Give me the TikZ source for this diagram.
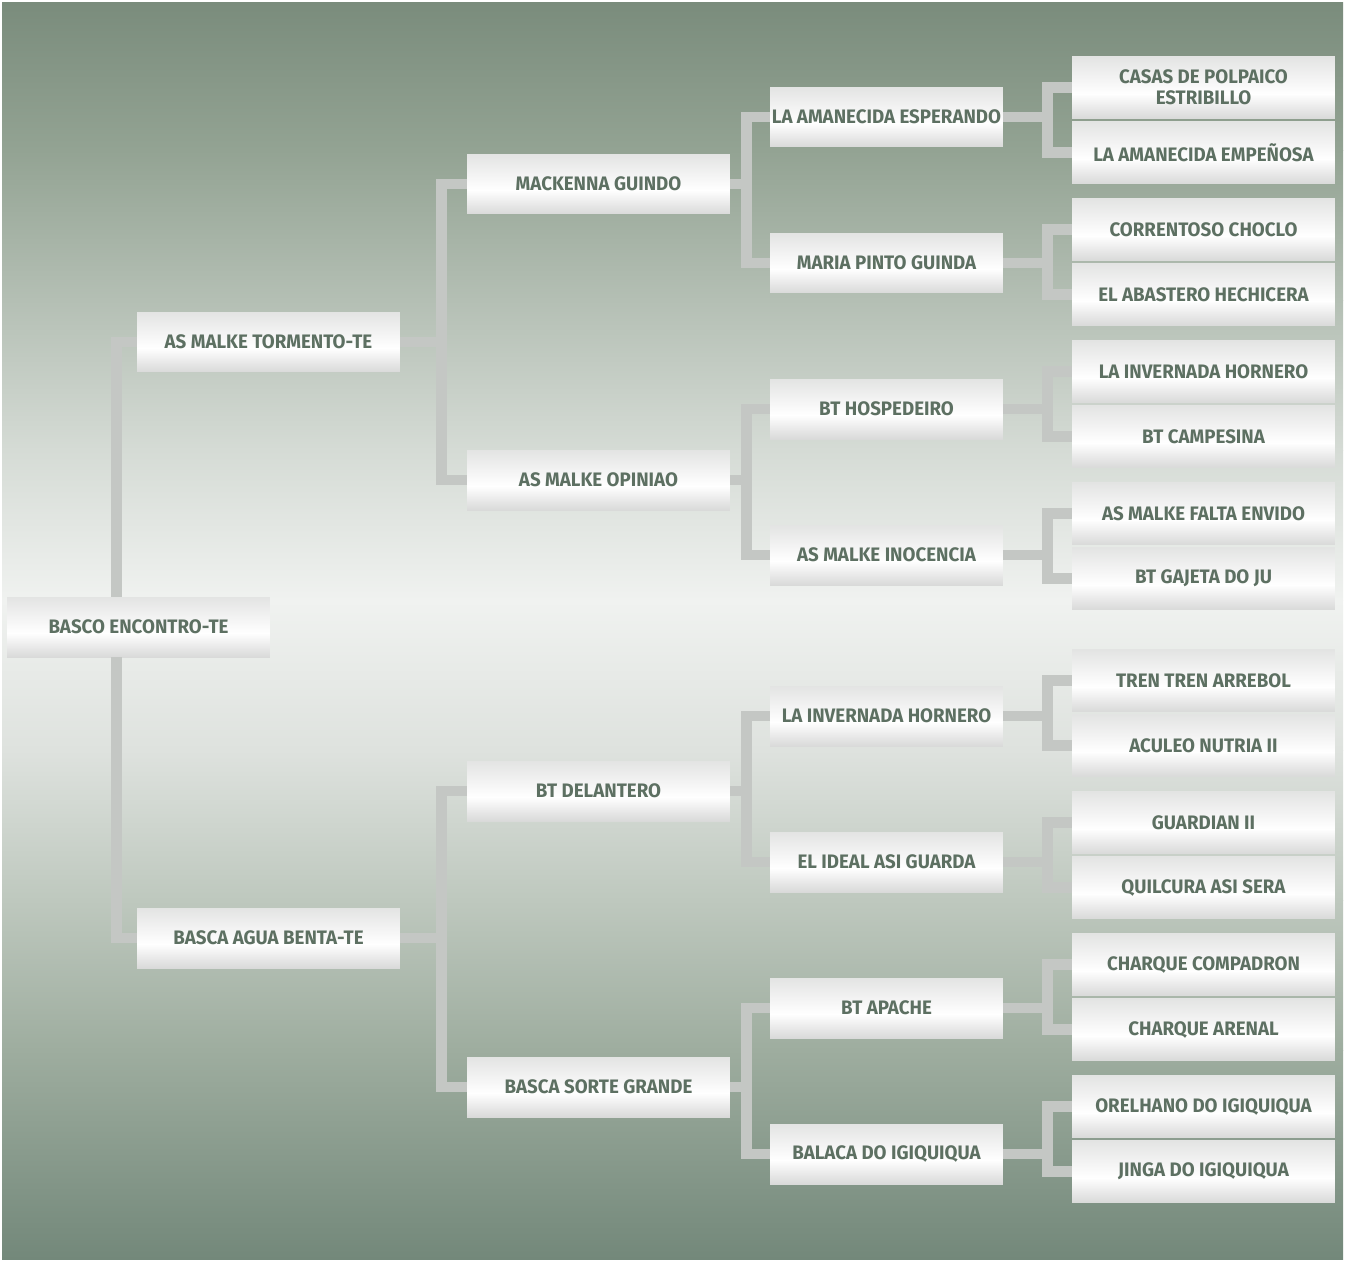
\documentclass[tikz,border=0pt]{standalone}
\usepackage{fontspec}
\setmainfont[FakeStretch=0.96]{Fira Sans}
\usepackage{xcolor}
\usepackage{tikz}

\definecolor{txt}{HTML}{5D7062}
\definecolor{lnk}{HTML}{C4C7C4}
\definecolor{boxtop}{HTML}{E3E4E3}
\definecolor{boxmid}{HTML}{F1F1F1}
\definecolor{boxlow}{HTML}{E6E6E6}
\definecolor{boxbot}{HTML}{D9DAD9}
\pgfdeclareverticalshading{boxshade}{100bp}{color(0bp)=(boxbot); color(25bp)=(boxbot);
  color(32bp)=(boxlow); color(45bp)=(white); color(60bp)=(boxmid); color(75bp)=(boxtop); color(100bp)=(boxtop)}

\begin{document}
\begin{tikzpicture}[x=0.02cm,y=-0.02cm,
  horse/.style={shading=boxshade, minimum width=5.26cm, minimum height=1.2cm, inner sep=0pt,
    text=txt, font=\fontsize{11.1}{11.9}\selectfont\bfseries, align=center},
  dam/.style={horse, minimum width=4.66cm},
  gran/.style={horse, minimum height=1.24cm},
  link/.style={line width=0.21cm, lnk}]
\useasboundingbox (0,0) rectangle (1345,1261);
\fill[white] (0,0) rectangle (1345,1261);
\shade[top color={rgb,255:red,122;green,140;blue,124}, bottom color={rgb,255:red,147;green,163;blue,147}] (2,2) rectangle (1343,150);
\shade[top color={rgb,255:red,147;green,163;blue,147}, bottom color={rgb,255:red,180;green,191;blue,180}] (2,150) rectangle (1343,300);
\shade[top color={rgb,255:red,180;green,191;blue,180}, bottom color={rgb,255:red,213;green,219;blue,213}] (2,300) rectangle (1343,450);
\shade[top color={rgb,255:red,213;green,219;blue,213}, bottom color={rgb,255:red,240;green,242;blue,240}] (2,450) rectangle (1343,600);
\shade[top color={rgb,255:red,240;green,242;blue,240}, bottom color={rgb,255:red,222;green,226;blue,222}] (2,600) rectangle (1343,750);
\shade[top color={rgb,255:red,222;green,226;blue,222}, bottom color={rgb,255:red,190;green,200;blue,190}] (2,750) rectangle (1343,900);
\shade[top color={rgb,255:red,190;green,200;blue,190}, bottom color={rgb,255:red,158;green,173;blue,159}] (2,900) rectangle (1343,1050);
\shade[top color={rgb,255:red,158;green,173;blue,159}, bottom color={rgb,255:red,115;green,136;blue,122}] (2,1050) rectangle (1343,1259);

% horses
\node[horse] at (138.5,627) (root) {BASCO ENCONTRO-TE};

\node[horse] at (268.5,342) (s) {AS MALKE TORMENTO-TE};
\node[horse] at (268.5,938) (d) {BASCA AGUA BENTA-TE};

\node[horse] at (598.5,184) (ss) {MACKENNA GUINDO};
\node[horse] at (598.5,480) (sd) {AS MALKE OPINIAO};
\node[horse] at (598.5,791) (ds) {BT DELANTERO};
\node[horse] at (598.5,1087) (dd) {BASCA SORTE GRANDE};

\node[dam] at (886.5,117) (sss) {LA AMANECIDA ESPERANDO};
\node[dam] at (886.5,263) (ssd) {MARIA PINTO GUINDA};
\node[dam] at (886.5,409) (sds) {BT HOSPEDEIRO};
\node[dam] at (886.5,555) (sdd) {AS MALKE INOCENCIA};
\node[dam] at (886.5,716) (dss) {LA INVERNADA HORNERO};
\node[dam] at (886.5,862) (dsd) {EL IDEAL ASI GUARDA};
\node[dam] at (886.5,1008) (dds) {BT APACHE};
\node[dam] at (886.5,1154) (ddd) {BALACA DO IGIQUIQUA};

\node[gran] at (1203.5,87.5) (ssss) {CASAS DE POLPAICO\\ESTRIBILLO};
\node[gran] at (1203.5,152.5) (sssd) {LA AMANECIDA EMPEÑOSA};
\node[gran] at (1203.5,229.5) (ssds) {CORRENTOSO CHOCLO};
\node[gran] at (1203.5,294.5) (ssdd) {EL ABASTERO HECHICERA};
\node[gran] at (1203.5,371.5) (sdss) {LA INVERNADA HORNERO};
\node[gran] at (1203.5,436.5) (sdsd) {BT CAMPESINA};
\node[gran] at (1203.5,513.5) (sdds) {AS MALKE FALTA ENVIDO};
\node[gran] at (1203.5,578.5) (sddd) {BT GAJETA DO JU};
\node[gran] at (1203.5,680.5) (dsss) {TREN TREN ARREBOL};
\node[gran] at (1203.5,745.5) (dssd) {ACULEO NUTRIA II};
\node[gran] at (1203.5,822.5) (dsds) {GUARDIAN II};
\node[gran] at (1203.5,887.5) (dsdd) {QUILCURA ASI SERA};
\node[gran] at (1203.5,964.5) (ddss) {CHARQUE COMPADRON};
\node[gran] at (1203.5,1029.5) (ddsd) {CHARQUE ARENAL};
\node[gran] at (1203.5,1106.5) (ddds) {ORELHANO DO IGIQUIQUA};
\node[gran] at (1203.5,1171.5) (dddd) {JINGA DO IGIQUIQUA};

% links
\draw[link] (s.west) -| ([xshift=-0.44cm]root.north);
\draw[link] (d.west) -| ([xshift=-0.44cm]root.south);

\foreach \p/\k in {s/ss,s/sd,d/ds,d/dd}
  \draw[link] (\k.west) -- ++(-25,0) |- (\p.east);
\foreach \p/\k in {ss/sss,ss/ssd,sd/sds,sd/sdd,ds/dss,ds/dsd,dd/dds,dd/ddd}
  \draw[link] (\k.west) -- ++(-23,0) |- (\p.east);
\foreach \p in {sss,ssd,sds,sdd,dss,dsd,dds,ddd}
{
  \draw[link] (\p s.west) -- ++(-24,0) |- (\p.east);
  \draw[link] (\p d.west) -- ++(-24,0) |- (\p.east);
}
\end{tikzpicture}
\end{document}
